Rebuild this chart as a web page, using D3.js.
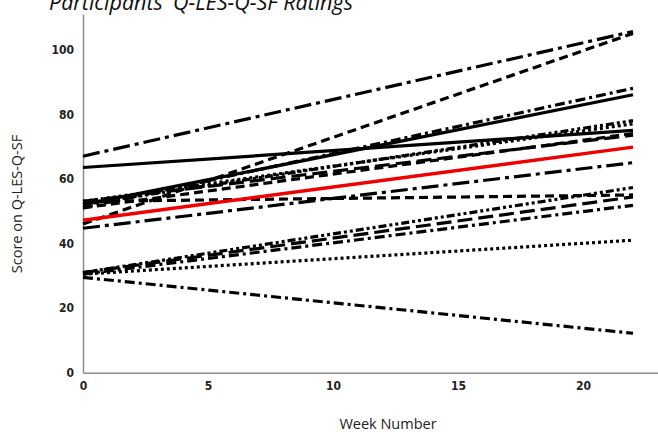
<!DOCTYPE html>
<html><head><meta charset="utf-8">
<script src="https://cdn.jsdelivr.net/npm/d3@7"></script>
<style>body{margin:0;background:#fff}svg{display:block}</style>
</head><body>
<svg id="c" width="658" height="432"></svg>
<script>
// Data: participant linear trajectories (week 0 -> week 22)
const weeks = [0, 22];
const startScores = [67, 46, 63.5, 52, 51, 47.2, 44.7, 53, 52, 51, 53, 53, 31, 31, 30.5, 30.5, 29.5];
const endScores   = [105.6, 105, 75, 86, 88, 69.8, 65, 77, 78, 74, 73.5, 55, 57.3, 54.4, 51.8, 41, 12.2];
const lineStyles  = ["longdashdot","dashed","solid","solid","dashdot","red","longdashdot","dotted","dashdotdot","dashed","longdash","dashed","dashdotdot","longdash","dashdot","dotted","dashdot"];
const yTicks = [0, 20, 40, 60, 80, 100];
const xTicks = [0, 5, 10, 15, 20];
const titleText = "Participants' Q-LES-Q-SF Ratings";
const xTitle = "Week Number";
const yTitle = "Score on Q-LES-Q-SF";

const dashMap = {solid:null, red:null, dashed:"9,5", longdash:"15,6", dotted:"3,3",
  dashdot:"10,4,3,4", dashdotdot:"8,3,3,3,3,3", longdashdot:"17,5,4,5"};

const svg = d3.select("#c");
const x = d3.scaleLinear().domain([0, 23]).range([83, 658]);
const y = d3.scaleLinear().domain([0, 111]).range([372.7, 14]);

// axes
const ax = svg.append("g").attr("transform","translate(0,372.7)")
  .call(d3.axisBottom(x).tickValues(xTicks).tickSize(0).tickPadding(9));
const ay = svg.append("g").attr("transform","translate(83,0)")
  .call(d3.axisLeft(y).tickValues(yTicks).tickSize(0).tickPadding(9));
[ax, ay].forEach(g => {
  g.select(".domain").attr("stroke","#8c8c8c").attr("stroke-width",1.5);
  g.selectAll("text").attr("font-family","'DejaVu Sans Condensed','DejaVu Sans',sans-serif")
    .attr("font-weight","bold").attr("font-size",12).attr("fill","#222");
});

// lines
const line = d3.line().x(d => x(d[0])).y(d => y(d[1]));
const data = startScores.map((s,i) => ({pts:[[weeks[0], s],[weeks[1], endScores[i]]], style: lineStyles[i]}));
const order = data.filter(d=>d.style!=="red").concat(data.filter(d=>d.style==="red"));
svg.append("g").selectAll("path").data(order).join("path")
  .attr("d", d => line(d.pts))
  .attr("fill","none")
  .attr("stroke", d => d.style==="red" ? "#f00000" : "#000")
  .attr("stroke-width", d => d.style==="red" ? 3.5 : 3.2)
  .attr("stroke-dasharray", d => dashMap[d.style]);

// titles
svg.append("text").attr("x",49).attr("y",10).text(titleText)
  .attr("font-family","'Open Sans',sans-serif").attr("font-style","italic").attr("font-size",21.5).attr("fill","#111");
svg.append("text").attr("x",388).attr("y",429).attr("text-anchor","middle").text(xTitle)
  .attr("font-family","'Open Sans',sans-serif").attr("font-size",14.5).attr("fill","#222");
svg.append("text").attr("transform","translate(22,204) rotate(-90)").attr("text-anchor","middle").text(yTitle)
  .attr("font-family","'Open Sans',sans-serif").attr("font-size",14.5).attr("fill","#222");
</script>
</body></html>
